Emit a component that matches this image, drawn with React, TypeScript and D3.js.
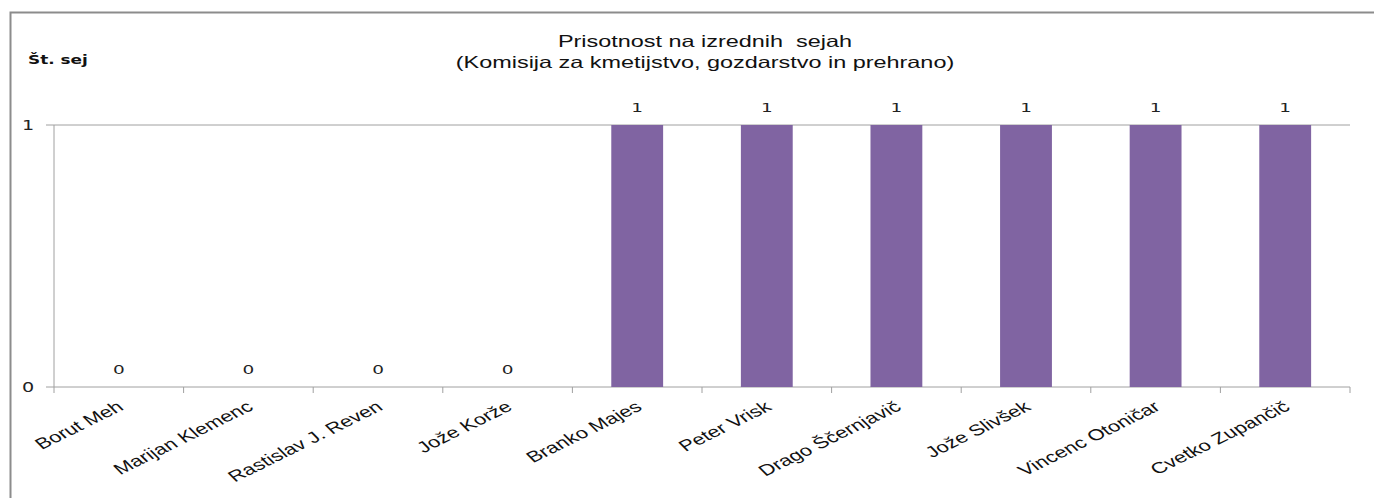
import { useEffect, useRef } from 'react';
import * as d3 from 'd3';

const WIDTH = 1374;
const HEIGHT = 498;
const MARGIN = { top: 125, right: 24, bottom: 111, left: 54 };
// the original picture is stretched sideways, so text is widened to match
const STRETCH = 1.42;

const names = [
  'Borut Meh',
  'Marijan Klemenc',
  'Rastislav J. Reven',
  'Jože Korže',
  'Branko Majes',
  'Peter Vrisk',
  'Drago Ščernjavič',
  'Jože Slivšek',
  'Vincenc Otoničar',
  'Cvetko Zupančič',
];
const sessions = [0, 0, 0, 0, 1, 1, 1, 1, 1, 1];
const yTicks = [0, 1];

const BAR_COLOR = '#8064a2';
const LINE_COLOR = '#a0a0a0';
const SANS = 'Liberation Sans, Arial, sans-serif';
const VERDANA = 'DejaVu Sans, Verdana, sans-serif';

export default function App() {
  const axesRef = useRef(null);
  const boundsWidth = WIDTH - MARGIN.left - MARGIN.right;
  const boundsHeight = HEIGHT - MARGIN.top - MARGIN.bottom;

  const xScale = d3.scaleBand().domain(names).range([0, boundsWidth]).paddingInner(0.6).paddingOuter(0.3);
  const xBand = d3.scaleBand().domain(names).range([0, boundsWidth]);
  const yScale = d3.scaleLinear().domain([0, 1]).range([boundsHeight, 0]);

  useEffect(() => {
    const g = d3.select(axesRef.current);
    g.selectAll('*').remove();

    // gridline at 1, y ticks and labels
    g.selectAll('line.grid')
      .data(yTicks.filter((t) => t > 0))
      .join('line')
      .attr('x1', 0)
      .attr('x2', boundsWidth)
      .attr('y1', (d) => yScale(d))
      .attr('y2', (d) => yScale(d))
      .attr('stroke', LINE_COLOR);
    g.selectAll('line.ytick')
      .data(yTicks)
      .join('line')
      .attr('x1', -8)
      .attr('x2', 0)
      .attr('y1', (d) => yScale(d))
      .attr('y2', (d) => yScale(d))
      .attr('stroke', LINE_COLOR);
    g.selectAll('text.ylab')
      .data(yTicks)
      .join('text')
      .attr('transform', (d) => `translate(-32,${yScale(d) + 5}) scale(${STRETCH},1)`)
      .attr('font-family', VERDANA)
      .attr('font-size', 13.5)
      .attr('fill', '#222')
      .text((d) => d);
    g.append('line')
      .attr('x1', 0)
      .attr('x2', 0)
      .attr('y1', 0)
      .attr('y2', boundsHeight)
      .attr('stroke', LINE_COLOR);

    // x axis line and category boundary ticks
    g.append('line')
      .attr('x1', 0)
      .attr('x2', boundsWidth)
      .attr('y1', boundsHeight)
      .attr('y2', boundsHeight)
      .attr('stroke', LINE_COLOR);
    const bounds = names.map((n) => xBand(n) as number).concat([boundsWidth]);
    g.selectAll('line.xtick')
      .data(bounds)
      .join('line')
      .attr('x1', (d) => d)
      .attr('x2', (d) => d)
      .attr('y1', boundsHeight)
      .attr('y2', boundsHeight + 6)
      .attr('stroke', LINE_COLOR);
    g.selectAll('text.xlab')
      .data(names)
      .join('text')
      .attr('transform', (d) => {
        const x = (xBand(d) as number) + xBand.bandwidth() / 2 + 6;
        return `translate(${x},${boundsHeight + 22}) scale(${STRETCH},1) rotate(-35)`;
      })
      .attr('text-anchor', 'end')
      .attr('font-family', SANS)
      .attr('font-size', 15.5)
      .attr('fill', '#111')
      .text((d) => d);
  }, []);

  return (
    <svg width={WIDTH} height={HEIGHT} style={{ position: 'absolute', left: 0, top: 0 }}>
      <rect x={10.5} y={12.5} width={1400} height={500} fill="white" stroke="#8c8c8c" strokeWidth={2} />
      <g transform={`translate(705,47) scale(${STRETCH},1)`}>
        <text textAnchor="middle" fontFamily={SANS} fontSize={16.5} fill="#111" style={{ whiteSpace: 'pre' }}>
          Prisotnost na izrednih  sejah
        </text>
        <text y={21} textAnchor="middle" fontFamily={SANS} fontSize={16.5} fill="#111">
          (Komisija za kmetijstvo, gozdarstvo in prehrano)
        </text>
      </g>
      <text
        transform={`translate(28,64) scale(1.3,1)`}
        fontFamily={VERDANA}
        fontSize={13}
        fontWeight="bold"
        fill="#111"
      >
        Št. sej
      </text>
      <g ref={axesRef} transform={`translate(${MARGIN.left},${MARGIN.top})`} />
      <g transform={`translate(${MARGIN.left},${MARGIN.top})`}>
        {names.map((n, i) => (
          <g key={n}>
            <rect
              x={xScale(n)}
              y={yScale(sessions[i])}
              width={xScale.bandwidth()}
              height={boundsHeight - yScale(sessions[i])}
              fill={BAR_COLOR}
            />
            <text
              transform={`translate(${(xScale(n) as number) + xScale.bandwidth() / 2},${
                yScale(sessions[i]) - 13
              }) scale(${STRETCH},1)`}
              textAnchor="middle"
              fontFamily={VERDANA}
              fontSize={13}
              fill="#222"
            >
              {sessions[i]}
            </text>
          </g>
        ))}
      </g>
    </svg>
  );
}
